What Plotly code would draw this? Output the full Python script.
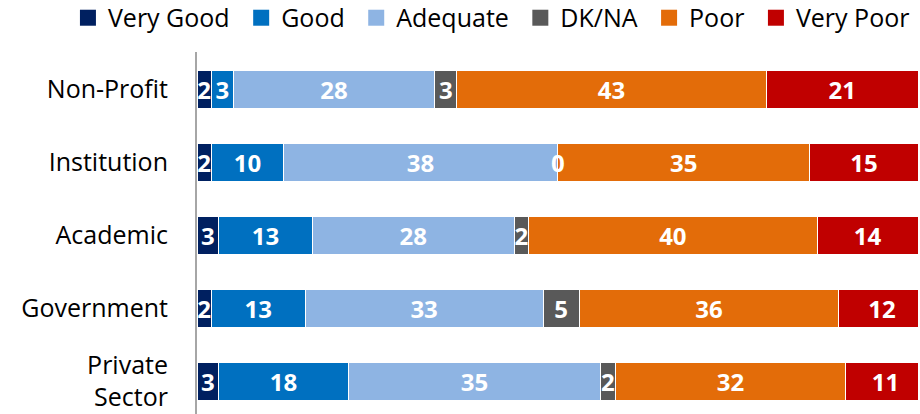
import plotly.graph_objects as go

# Categories (top to bottom) and series values (percent)
categories = ["Non-Profit", "Institution", "Academic", "Government", "Private<br>Sector"]
series_names = ["Very Good", "Good", "Adequate", "DK/NA", "Poor", "Very Poor"]
very_good = [2, 2, 3, 2, 3]
good = [3, 10, 13, 13, 18]
adequate = [28, 38, 28, 33, 35]
dk_na = [3, 0, 2, 5, 2]
poor = [43, 35, 40, 36, 32]
very_poor = [21, 15, 14, 12, 11]
colors = ["#002060", "#0070C0", "#8EB4E3", "#595959", "#E36C09", "#C00000"]

all_values = [very_good, good, adequate, dk_na, poor, very_poor]
label_font = dict(family="Open Sans", size=24, color="white", weight="bold")

fig = go.Figure()
for name, vals, col in zip(series_names, all_values, colors):
    fig.add_trace(go.Bar(
        y=categories, x=vals, name=name, orientation="h",
        marker=dict(color=col, line=dict(color="white", width=1)),
        text=vals, texttemplate="%{x}", textposition="inside",
        insidetextanchor="middle", textangle=0, constraintext="none",
        textfont=label_font, hoverinfo="name+x", showlegend=False,
    ))
    # bigger square swatches for the legend (nbsp widens the item gap a bit)
    fig.add_trace(go.Scatter(
        x=[None], y=[None], mode="markers", name=name + "\u00a0",
        marker=dict(symbol="square", size=17, color=col),
    ))

# zero-width segments still get their label, placed at the stack position
for i, vals in enumerate(all_values):
    for j, v in enumerate(vals):
        if v == 0:
            base = sum(all_values[k][j] for k in range(i))
            fig.add_annotation(x=base, y=categories[j], text="0",
                               showarrow=False, font=label_font)

fig.update_layout(
    barmode="stack",
    bargap=0.48,
    width=920, height=414,
    margin=dict(l=197, r=2, t=52, b=0, autoexpand=False),
    plot_bgcolor="white", paper_bgcolor="white",
    font=dict(family="Open Sans", color="black"),
    legend=dict(
        orientation="h", x=-0.179, xanchor="left", y=1.094, yanchor="middle",
        font=dict(size=25), traceorder="normal", itemwidth=30,
    ),
    xaxis=dict(range=[0, 100], showticklabels=False, showgrid=False,
               zeroline=False, showline=False),
    yaxis=dict(
        range=[4.45, -0.514], showgrid=False, zeroline=False,
        showline=True, linecolor="#a6a6a6", linewidth=2, automargin=False,
        ticks="", tickfont=dict(size=25), ticklabelstandoff=22,
    ),
)

# drop the default 8px body margin so the figure fills the window
fig.write_html("out.html", config={"displayModeBar": False},
               post_script="document.body.style.margin='0';")
